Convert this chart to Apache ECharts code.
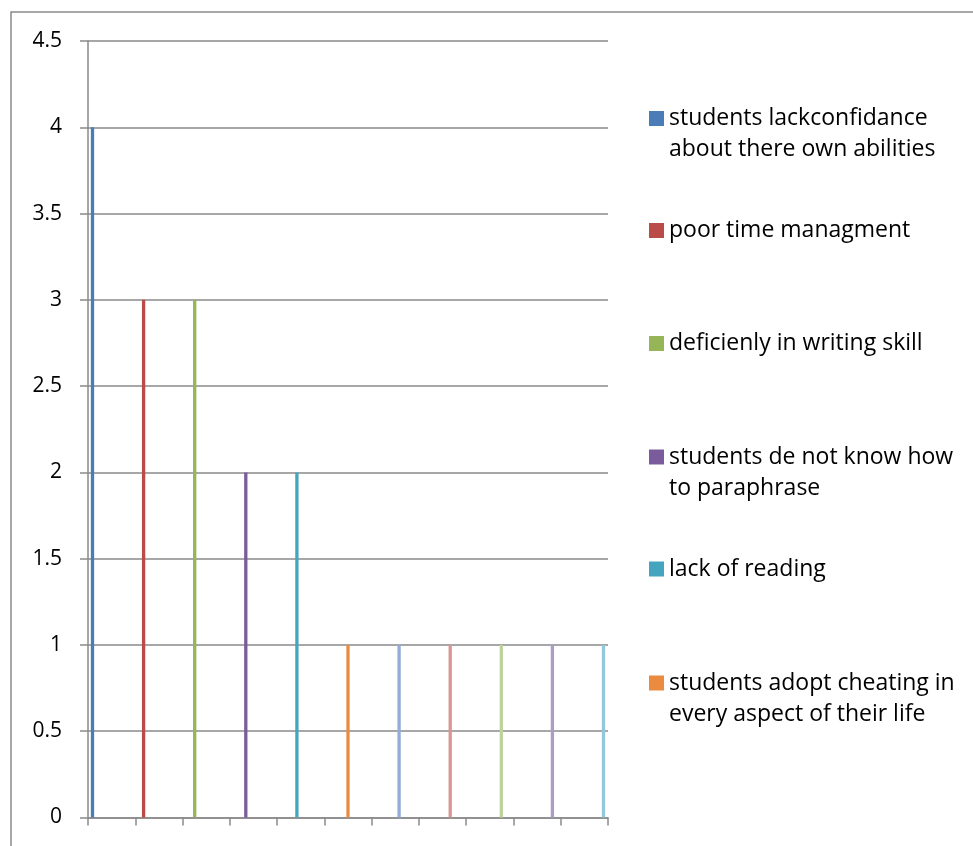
<!DOCTYPE html>
<html>
<head>
<meta charset="utf-8">
<script src="https://cdn.jsdelivr.net/npm/echarts@6/dist/echarts.min.js"></script>
<style>
  html, body { margin: 0; padding: 0; background: #fff; }
  #chart { width: 973px; height: 846px; }
</style>
</head>
<body>
<div id="chart"></div>
<script>
// Reasons given for plagiarism, one column each
const reasons = [
  'students lackconfidance about there own abilities',
  'poor time managment',
  'deficienly in writing skill',
  'students de not know how to paraphrase',
  'lack of reading',
  'students adopt cheating in every aspect of their life',
  'reason 7',
  'reason 8',
  'reason 9',
  'reason 10',
  'reason 11'
];
const counts = [4, 3, 3, 2, 2, 1, 1, 1, 1, 1, 1];

// Legend text, wrapped the way the legend column shows it
const legendLines = {
  'students lackconfidance about there own abilities': ['students lackconfidance', 'about there own abilities'],
  'poor time managment': ['poor time managment'],
  'deficienly in writing skill': ['deficienly in writing skill'],
  'students de not know how to paraphrase': ['students de not know how', 'to paraphrase'],
  'lack of reading': ['lack of reading'],
  'students adopt cheating in every aspect of their life': ['students adopt cheating in', 'every aspect of their life']
};

const yTicks = { min: 0, max: 4.5, step: 0.5 };

const colors = [
  '#4A7DB8', '#BB4B48', '#95B556', '#7A5C9D', '#45A5BF', '#EA8B3F',
  '#95ACD6', '#D89694', '#BED39C', '#AC9DC7', '#93C7DA'
];

const FONT = 'Open Sans';
const chart = echarts.init(document.getElementById('chart'), null, { renderer: 'canvas' });

// each column sits alone in its own slot on the category axis
const series = reasons.map((name, i) => ({
  name: name,
  type: 'bar',
  barWidth: 3.3,
  barGap: '16%',
  itemStyle: { color: colors[i] },
  data: counts.map((v, j) => (j === i ? v : '-'))
}));

// legend rows: icon centre y for each visible entry; the icon lines up with the first text line
const legendCentres = [118.5, 230.5, 343.5, 457, 569, 683];
const LINE = 31;
const legends = legendCentres.map((c, i) => {
  const name = reasons[i];
  const twoLines = legendLines[name].length > 1;
  return {
    show: true,
    orient: 'vertical',
    left: 649,
    top: twoLines ? c - LINE * 1.5 : c - LINE / 2,
    padding: 0,
    itemWidth: 15,
    itemHeight: 15,
    itemGap: 0,
    icon: 'rect',
    selectedMode: false,
    data: [name],
    // a blank line above keeps the first line level with the icon
    formatter: (n) => (legendLines[n].length > 1 ? ' \n' : '') + legendLines[n].join('\n'),
    textStyle: {
      fontFamily: FONT,
      fontSize: 23,
      color: '#000',
      lineHeight: LINE
    }
  };
});

chart.setOption({
  animation: false,
  backgroundColor: '#fff',
  color: colors,
  grid: { left: 88, right: 365, top: 41, bottom: 28.5, containLabel: false },
  legend: legends,
  xAxis: {
    type: 'category',
    data: reasons,
    boundaryGap: true,
    axisLine: { show: true, lineStyle: { color: '#8a8a8a', width: 1.5 } },
    axisTick: { show: true, length: 8, interval: 0, alignWithLabel: false, lineStyle: { color: '#8a8a8a', width: 1.5 } },
    axisLabel: { show: false, interval: 0 },
    splitLine: { show: false }
  },
  yAxis: {
    type: 'value',
    min: yTicks.min,
    max: yTicks.max,
    interval: yTicks.step,
    axisLine: { show: true, lineStyle: { color: '#8a8a8a', width: 1.5 } },
    axisTick: { show: true, length: 8, lineStyle: { color: '#8a8a8a', width: 1.5 } },
    axisLabel: {
      margin: 26,
      fontFamily: FONT,
      fontSize: 21,
      color: '#000',
      formatter: (v) => String(v)
    },
    splitLine: { show: true, lineStyle: { color: '#8a8a8a', width: 1.5 } }
  },
  graphic: [{
    type: 'rect',
    silent: true,
    shape: { x: 11, y: 12, width: 1000, height: 900 },
    style: { fill: null, stroke: '#8a8a8a', lineWidth: 1.5 },
    z: -1
  }],
  series: series
});
</script>
</body>
</html>
